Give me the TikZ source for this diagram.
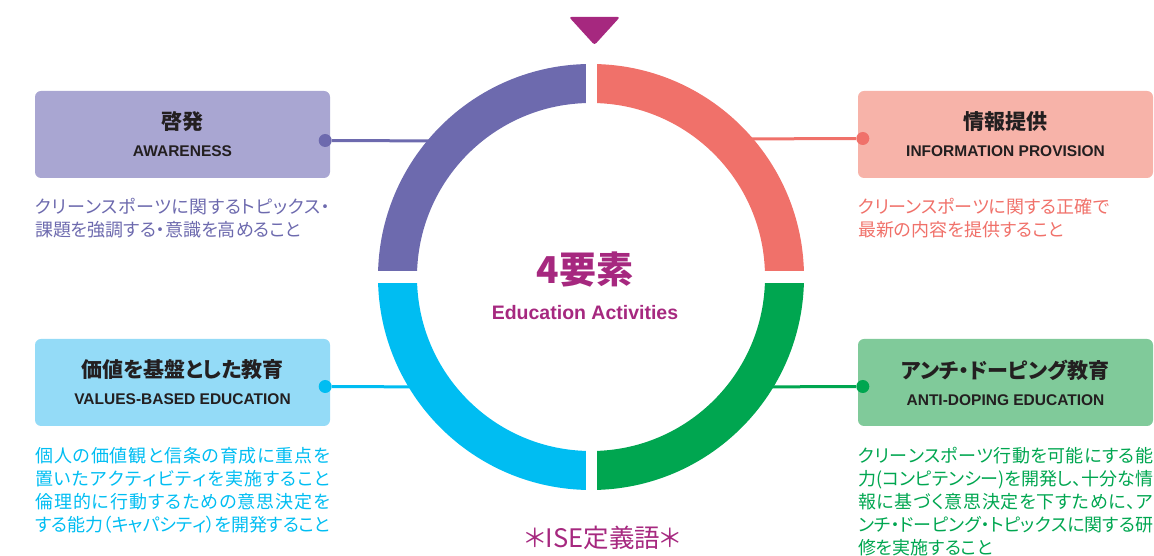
\documentclass[tikz,border=0pt]{standalone}
\usepackage{fontspec}
\usepackage{tikz}
\usetikzlibrary{positioning}
\setmainfont{Liberation Sans}
\newfontfamily\jpfont{Noto Sans CJK JP}[RawFeature=+palt]
\definecolor{ringpurple}{HTML}{6D6AAE}
\definecolor{ringred}{HTML}{F0716A}
\definecolor{ringcyan}{HTML}{00BDF2}
\definecolor{ringgreen}{HTML}{00A650}
\definecolor{boxpurple}{HTML}{A9A6D2}
\definecolor{boxred}{HTML}{F7B3A9}
\definecolor{boxcyan}{HTML}{94DBF7}
\definecolor{boxgreen}{HTML}{80CA9A}
\definecolor{magentaish}{HTML}{A6287F}
\definecolor{textdark}{HTML}{231F20}
\tikzstyle{topic} = [rectangle, rounded corners=6pt, minimum width=295pt, minimum height=87pt, text centered, align=center, text=textdark, font=\bfseries\fontsize{15.5}{27}\selectfont]
\tikzstyle{desc} = [anchor=north west, align=left, inner sep=0pt, font=\jpfont\fontsize{18}{23}\selectfont]
\tikzstyle{dotnode} = [circle, inner sep=0pt, minimum size=13pt]
\tikzstyle{link} = [line width=3pt]
\newcommand\spreadline[1]{\makebox[295pt][s]{\spreadfirst#1\relax}}
\def\spreadfirst#1{#1\spreadrest}
\def\spreadrest#1{\ifx#1\relax\else\hskip0pt plus1fil minus1pt#1\expandafter\spreadrest\fi}
\newcommand\jptitle[1]{{\jpfont\bfseries\fontsize{21}{27}\selectfont #1}}

\begin{document}
\begin{tikzpicture}[x=1pt, y=1pt, node distance=823pt]
\useasboundingbox (0,0) rectangle (1154,556);
\coordinate (ring) at (591,279);

\node (awareness) [topic, fill=boxpurple] at (182.5,421.5) {\jptitle{啓発}\\AWARENESS};
\node (info) [topic, fill=boxred, right of=awareness] {\jptitle{情報提供}\\INFORMATION PROVISION};
\node (values) [topic, fill=boxcyan, below of=awareness, node distance=248pt] {\jptitle{価値を基盤とした教育}\\VALUES-BASED EDUCATION};
\node (antidoping) [topic, fill=boxgreen, right of=values] {\jptitle{アンチ・ドーピング教育}\\ANTI-DOPING EDUCATION};

\node (awdot) [dotnode, fill=ringpurple] at ([xshift=-5pt,yshift=-6pt]awareness.east) {};
\node (infodot) [dotnode, fill=ringred] at ([xshift=5pt,yshift=-4pt]info.west) {};
\node (valdot) [dotnode, fill=ringcyan] at ([xshift=-5pt,yshift=-4pt]values.east) {};
\node (addot) [dotnode, fill=ringgreen] at ([xshift=5pt,yshift=-4pt]antidoping.west) {};
\coordinate (awend) at (450,415);
\coordinate (infoend) at (730,417);
\coordinate (valend) at (440,169);
\coordinate (adend) at (740,169);
\draw [link, ringpurple] (awdot) -- (awend);
\draw [link, ringred] (infodot) -- (infoend);
\draw [link, ringcyan] (valdot) -- (valend);
\draw [link, ringgreen] (addot) -- (adend);

\foreach \a/\col in {0/ringred, 90/ringpurple, 180/ringcyan, 270/ringgreen}
  \fill [\col] (ring) ++(\a:213) arc [start angle=\a, end angle=\a+90, radius=213] -- ++(\a+270:39) arc [start angle=\a+90, end angle=\a, radius=174] -- cycle;
\draw [white, line width=11pt] (ring) ++(0,-222) -- ++(0,444);
\draw [white, line width=12pt] (ring) ++(-222,0) -- ++(444,0);

\fill [magentaish, rounded corners=2.5pt] (569,539) -- (620,539) -- (594.5,511) -- cycle;

\node (title) [text=magentaish, font=\jpfont\bfseries\fontsize{37}{40}\selectfont] at (585,286) {4要素};
\node (subtitle) [text=magentaish, font=\bfseries\fontsize{19.5}{22}\selectfont] at (585,243) {Education Activities};
\node (ise) [text=magentaish, font=\jpfont\fontsize{25.5}{27}\selectfont] at (603,18) {＊ISE定義語＊};

\node (awtext) [desc, text=ringpurple] at (35,358) {\spreadline{クリーンスポーツに関するトピックス・}\\課題を強調する・意識を高めること};
\node (infotext) [desc, text=ringred] at (858,358) {クリーンスポーツに関する正確で\\最新の内容を提供すること};
\node (valtext) [desc, text=ringcyan] at (35,109) {\spreadline{個人の価値観と信条の育成に重点を}\\\spreadline{置いたアクティビティを実施すること}\\\spreadline{倫理的に行動するための意思決定を}\\\spreadline{する能力（キャパシティ）を開発すること}};
\node (adtext) [desc, text=ringgreen] at (858,109) {\spreadline{クリーンスポーツ行動を可能にする能}\\\spreadline{力(コンピテンシー)を開発し、十分な情}\\\spreadline{報に基づく意思決定を下すために、ア}\\\spreadline{ンチ・ドーピング・トピックスに関する研}\\修を実施すること};
\end{tikzpicture}
\end{document}
